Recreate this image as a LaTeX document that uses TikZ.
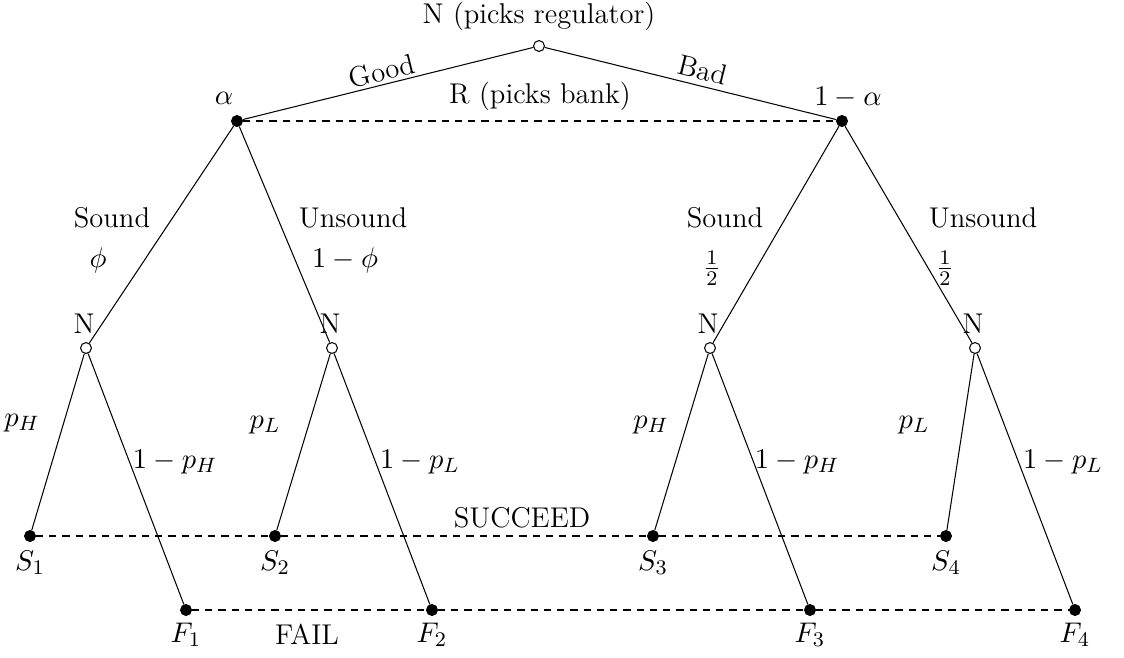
\documentclass[tikz,border=0pt]{standalone}
\begin{document}
\begin{tikzpicture}[x=0.385pt,y=-0.385pt,
  every node/.style={font=\fontsize{11}{13}\selectfont},
  chance/.style={circle,draw,fill=white,inner sep=0pt,minimum size=4.2pt},
  dot/.style={circle,draw,fill=black,inner sep=0pt,minimum size=4.2pt},
  lbl/.style={inner sep=1pt},
  info/.style={dash pattern=on 2.8pt off 2.3pt}]
\useasboundingbox (0,0) rectangle (1124,657);
% decision nodes
\node[chance] (r) at (539,46) {};
\node[dot] (a) at (237,121) {};
\node[dot] (b) at (842,121) {};
\node[chance] (c1) at (86,348) {};
\node[chance] (c2) at (332,348) {};
\node[chance] (c3) at (710,348) {};
\node[chance] (c4) at (975,348) {};
\node[dot] (s1) at (30,536) {};
\node[dot] (s2) at (275,536) {};
\node[dot] (s3) at (653,536) {};
\node[dot] (s4) at (946,536) {};
\node[dot] (f1) at (186,610) {};
\node[dot] (f2) at (432,610) {};
\node[dot] (f3) at (810,610) {};
\node[dot] (f4) at (1075,610) {};
% edges
\draw (r) -- (a);
\draw (r) -- (b);
\draw (a) -- (c1);
\draw (a) -- (c2);
\draw (b) -- (c3);
\draw (b) -- (c4);
\draw (c1) -- (s1);
\draw (c1) -- (f1);
\draw (c2) -- (s2);
\draw (c2) -- (f2);
\draw (c3) -- (s3);
\draw (c3) -- (f3);
\draw (c4) -- (s4);
\draw (c4) -- (f4);
% information sets
\draw[info] (a) -- (b);
\draw[info] (s1) -- (s2) -- (s3) -- (s4);
\draw[info] (f1) -- (f2) -- (f3) -- (f4);
% labels
\node[lbl] (lr) at (539,16) {N (picks regulator)};
\node[lbl] (lR) at (540,96) {R (picks bank)};
\node[lbl] (la) at (224,98) {$\alpha$};
\node[lbl] (lb) at (848,98) {$1-\alpha$};
\node[lbl,rotate=14] (lgood) at (382,71) {Good};
\node[lbl,rotate=-14] (lbad) at (703,70) {Bad};
\node[lbl] (ls1) at (112,218) {Sound};
\node[lbl] (lp1) at (98,260) {$\phi$};
\node[lbl] (lu1) at (353,218) {Unsound};
\node[lbl] (lp2) at (345,260) {$1-\phi$};
\node[lbl] (ls2) at (725,218) {Sound};
\node[lbl] (lh1) at (712,268) {$\frac{1}{2}$};
\node[lbl] (lu2) at (983,218) {Unsound};
\node[lbl] (lh2) at (945,268) {$\frac{1}{2}$};
\node[lbl] (ln1) at (84,324) {N};
\node[lbl] (ln2) at (330,324) {N};
\node[lbl] (ln3) at (708,324) {N};
\node[lbl] (ln4) at (973,324) {N};
\node[lbl] (lq1) at (22,423) {$p_H$};
\node[lbl] (lq2) at (175,462) {$1-p_H$};
\node[lbl] (lq3) at (265,425) {$p_L$};
\node[lbl] (lq4) at (420,462) {$1-p_L$};
\node[lbl] (lq5) at (651,425) {$p_H$};
\node[lbl] (lq6) at (797,462) {$1-p_H$};
\node[lbl] (lq7) at (914,425) {$p_L$};
\node[lbl] (lq8) at (1063,462) {$1-p_L$};
\node[lbl] (lS1) at (30,563) {$S_1$};
\node[lbl] (lS2) at (275,563) {$S_2$};
\node[lbl] (lS3) at (653,563) {$S_3$};
\node[lbl] (lS4) at (946,563) {$S_4$};
\node[lbl] (lF1) at (186,635) {$F_1$};
\node[lbl] (lF2) at (432,635) {$F_2$};
\node[lbl] (lF3) at (810,635) {$F_3$};
\node[lbl] (lF4) at (1075,635) {$F_4$};
\node[lbl] (lsucc) at (522,518) {SUCCEED};
\node[lbl] (lfail) at (307,634) {FAIL};
\end{tikzpicture}
\end{document}
